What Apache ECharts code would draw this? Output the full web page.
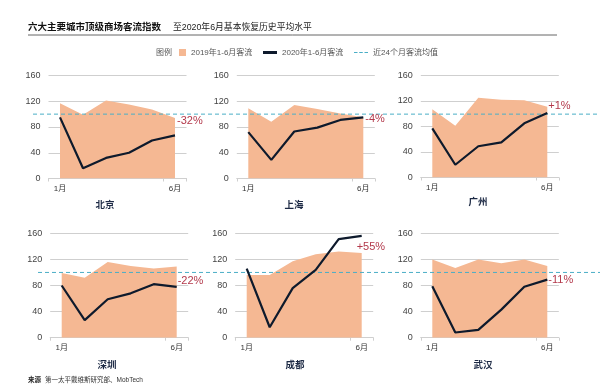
<!DOCTYPE html>
<html><head><meta charset="utf-8">
<script src="https://cdn.jsdelivr.net/npm/echarts@6/dist/echarts.min.js"></script>
<style>html,body{margin:0;padding:0;background:#fff}#c{width:600px;height:387px}</style>
</head><body><div id="c"></div>
<script>
// ---- data ----
const months = ['1月','2月','3月','4月','5月','6月'];
const cities = ['北京','上海','广州','深圳','成都','武汉'];
const flow2019_beijing   = [117, 99, 121, 115, 107, 94];
const flow2020_beijing   = [95, 16, 32, 40, 59, 67];
const flow2019_shanghai  = [109, 88, 114, 108, 101, 95];
const flow2020_shanghai  = [72, 29, 73, 79, 91, 95];
const flow2019_guangzhou = [107, 81, 125, 122, 121, 111];
const flow2020_guangzhou = [77, 20, 49, 55, 85, 101];
const flow2019_shenzhen  = [99, 92, 116, 110, 106, 109];
const flow2020_shenzhen  = [80, 27, 59, 68, 82, 78];
const flow2019_chengdu   = [96, 96, 117, 128, 132, 130];
const flow2020_chengdu   = [106, 16, 76, 104, 151, 156];
const flow2019_wuhan     = [120, 107, 120, 114, 120, 110];
const flow2020_wuhan     = [79, 8, 12, 43, 78, 89];
const changeLabels = ['-32%','-4%','+1%','-22%','+55%','-11%'];
const avgLevel = [100, 100];
const yMin = 0, yMax = 160, yStep = 40;

const flows2019 = [flow2019_beijing, flow2019_shanghai, flow2019_guangzhou, flow2019_shenzhen, flow2019_chengdu, flow2019_wuhan];
const flows2020 = [flow2020_beijing, flow2020_shanghai, flow2020_guangzhou, flow2020_shenzhen, flow2020_chengdu, flow2020_wuhan];

// ---- layout / style ----
const FONT = '"Liberation Sans","Noto Sans CJK SC",sans-serif';
const C_AREA = '#f5b893', C_LINE = '#0e1a2c', C_AVG = '#4aaec6', C_RED = '#b3394b', C_NAME = '#1d2a45';
const panels = [
  {left:48.5, top:75.5, h:103, off:[-2,-14], nx:105, ny:200.5},
  {left:236.8, top:75.5, h:103, off:[-2,2], nx:294, ny:200.5},
  {left:420.8, top:75.5, h:102, off:[-3,-7], nx:478, ny:198},
  {left:50.2, top:233.3, h:104.4, off:[-3,-6], nx:107, ny:360.5},
  {left:235.2, top:233.3, h:104.4, off:[-9,11], nx:295, ny:360.5},
  {left:420.8, top:233.3, h:104.4, off:[-3,0], nx:483, ny:360.5}
];
const rows = [{left:33, top:75.5, h:103}, {left:38, top:233.3, h:104.4}];
const PW = 138;

const grid = [], xAxis = [], yAxis = [], series = [], title = [];
panels.forEach((p, i) => {
  grid.push({left:p.left, top:p.top, width:PW, height:p.h});
  xAxis.push({
    type:'category', gridIndex:i, data:months, boundaryGap:true,
    axisLine:{lineStyle:{color:'#cfcfcf'}},
    axisTick:{show:true, length:3, lineStyle:{color:'#cfcfcf'}},
    axisLabel:{interval:(idx)=>idx===0||idx===months.length-1, fontSize:8, color:'#333', fontFamily:FONT, margin:6}
  });
  yAxis.push({
    type:'value', gridIndex:i, min:yMin, max:yMax, interval:yStep,
    axisLine:{show:false}, axisTick:{show:false},
    axisLabel:{fontSize:9, color:'#444', fontFamily:FONT, margin:8},
    splitLine:{lineStyle:{color:'#cfcfcf', width:1}}
  });
  series.push({
    name:'2019年1-6月客流', type:'line', xAxisIndex:i, yAxisIndex:i, data:flows2019[i],
    symbol:'none', lineStyle:{width:0}, areaStyle:{color:C_AREA, opacity:1}, itemStyle:{color:C_AREA}, z:1, silent:true
  });
  series.push({
    name:'2020年1-6月客流', type:'line', xAxisIndex:i, yAxisIndex:i, data:flows2020[i],
    symbol:'none', lineStyle:{width:2.2, color:C_LINE}, itemStyle:{color:C_LINE}, z:5,
    endLabel:{show:true, distance:4, offset:p.off, formatter:changeLabels[i],
      fontSize:11, color:C_RED, fontFamily:FONT}
  });
  title.push({text:cities[i], left:p.nx, top:p.ny, textAlign:'center', padding:0,
    textStyle:{fontSize:9.5, fontWeight:'bold', color:C_NAME, fontFamily:FONT}});
});

// full-width reference line grids
rows.forEach((r, j) => {
  const gi = grid.length;
  grid.push({left:r.left, right:0, top:r.top, height:r.h});
  xAxis.push({type:'value', gridIndex:gi, min:0, max:1, show:false});
  yAxis.push({type:'value', gridIndex:gi, min:yMin, max:yMax, show:false});
  series.push({
    name:'近24个月客流均值', type:'line', xAxisIndex:gi, yAxisIndex:gi,
    data:avgLevel.map((v, k) => [k, v]), symbol:'none',
    lineStyle:{color:C_AVG, width:1, type:[4,3]}, itemStyle:{color:C_AVG}, z:3
  });
});

title.push({text:'六大主要城市顶级商场客流指数', left:28, top:23, padding:0,
  textStyle:{fontSize:9.5, fontWeight:'bold', color:'#111', fontFamily:FONT}});
title.push({text:'至2020年6月基本恢复历史平均水平', left:173, top:23.5, padding:0,
  textStyle:{fontSize:8.8, fontWeight:'normal', color:'#222', fontFamily:FONT}});
title.push({text:'来源', left:28, top:377, padding:0,
  textStyle:{fontSize:6.5, fontWeight:'bold', color:'#222', fontFamily:FONT}});
title.push({text:'第一太平戴维斯研究部、MobTech', left:45, top:377, padding:0,
  textStyle:{fontSize:6.5, fontWeight:'normal', color:'#333', fontFamily:FONT}});

const legTxt = {fontSize:8, color:'#555', fontFamily:FONT};
const legend = [
  {data:['2019年1-6月客流'], left:179, top:48.5, padding:0, icon:'rect', itemWidth:7, itemHeight:7, textStyle:legTxt, selectedMode:false},
  {data:['2020年1-6月客流'], left:263, top:48.5, padding:0, icon:'rect', itemWidth:14, itemHeight:3, textStyle:legTxt, selectedMode:false},
  {data:['近24个月客流均值'], left:354, top:48.5, padding:0, icon:'path://M0,0h4v1h-4z M6,0h4v1h-4z M12,0h4v1h-4z', itemWidth:14, itemHeight:1.2, textStyle:legTxt, selectedMode:false}
];

const chart = echarts.init(document.getElementById('c'), null, {renderer:'canvas'});
chart.setOption({
  backgroundColor:'#fff', animation:false,
  title, legend, grid, xAxis, yAxis, series,
  graphic:[
    {type:'line', shape:{x1:28, y1:35, x2:557, y2:35}, style:{stroke:'#666', lineWidth:1}},
    {type:'text', left:156, top:48.5, style:{text:'图例', fontSize:8, fill:'#555', fontFamily:FONT}}
  ]
});
</script></body></html>
